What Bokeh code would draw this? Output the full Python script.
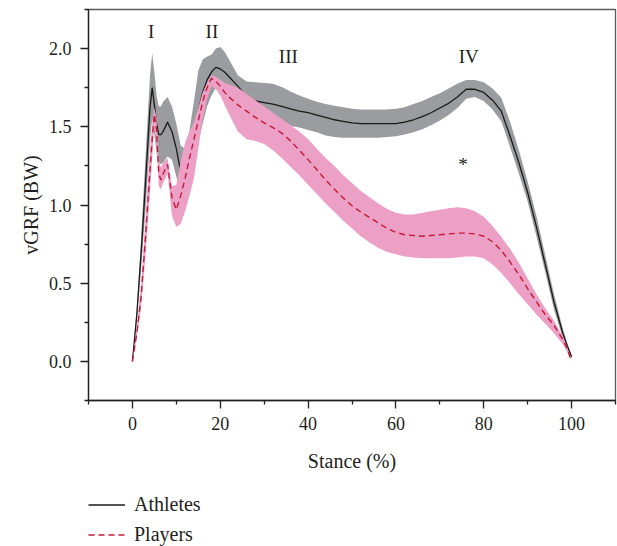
from bokeh.plotting import figure
from bokeh.layouts import column
from bokeh.models import (ColumnDataSource, FixedTicker, PrintfTickFormatter, Legend,
                          LegendItem, Range1d)
from bokeh.core.properties import value
from bokeh.embed import file_html
from bokeh.resources import INLINE

# ---- data ----
stance = [0, 1, 2, 3, 4, 4.5, 5, 5.5, 6, 6.5, 7, 8, 9, 10, 11, 12, 13, 14, 15, 16, 17, 18, 19, 20, 21,
          22, 24, 26, 28, 30, 32, 34, 36, 38, 40, 42, 44, 46, 48, 50, 52, 54, 56, 58, 60, 62, 64, 66,
          68, 70, 72, 74, 76, 78, 80, 82, 84, 86, 88, 90, 92, 94, 96, 98, 99, 100]

athletes_mean = [0.00, 0.30, 0.70, 1.15, 1.62, 1.75, 1.64, 1.52, 1.45, 1.45, 1.47, 1.53, 1.47, 1.36,
                 1.21, 1.17, 1.30, 1.45, 1.60, 1.72, 1.80, 1.85, 1.88, 1.87, 1.85,
                 1.82, 1.76, 1.69, 1.665, 1.655, 1.645, 1.63, 1.615, 1.60, 1.59, 1.575, 1.56, 1.545,
                 1.535, 1.525, 1.52, 1.52, 1.52, 1.52, 1.52, 1.53, 1.545, 1.565,
                 1.59, 1.62, 1.65, 1.69, 1.74, 1.74, 1.72, 1.67, 1.60, 1.44, 1.27, 1.08, 0.86, 0.62,
                 0.38, 0.18, 0.10, 0.03]
athletes_upper = [0.00, 0.34, 0.80, 1.32, 1.83, 1.97, 1.85, 1.70, 1.63, 1.63, 1.66, 1.69, 1.63, 1.52,
                  1.38, 1.36, 1.48, 1.66, 1.86, 1.93, 1.95, 1.96, 2.00, 2.01, 1.98,
                  1.93, 1.83, 1.79, 1.785, 1.78, 1.775, 1.755, 1.725, 1.70, 1.68, 1.66, 1.645, 1.635,
                  1.625, 1.615, 1.61, 1.61, 1.61, 1.61, 1.615, 1.625, 1.645, 1.665,
                  1.69, 1.715, 1.745, 1.775, 1.80, 1.80, 1.785, 1.745, 1.685, 1.53, 1.35, 1.15, 0.93,
                  0.68, 0.43, 0.21, 0.12, 0.04]
athletes_lower = [0.00, 0.26, 0.60, 0.98, 1.41, 1.55, 1.45, 1.33, 1.27, 1.26, 1.27, 1.31, 1.29, 1.18,
                  1.06, 1.05, 1.12, 1.26, 1.40, 1.52, 1.63, 1.70, 1.75, 1.76, 1.74,
                  1.71, 1.66, 1.60, 1.565, 1.55, 1.535, 1.52, 1.505, 1.495, 1.48, 1.465, 1.445, 1.435,
                  1.43, 1.43, 1.43, 1.43, 1.43, 1.435, 1.44, 1.45, 1.465, 1.485,
                  1.51, 1.54, 1.575, 1.62, 1.68, 1.69, 1.665, 1.61, 1.535, 1.37, 1.20, 1.02, 0.80,
                  0.57, 0.33, 0.15, 0.08, 0.02]

players_mean = [0.00, 0.18, 0.42, 0.80, 1.22, 1.42, 1.58, 1.48, 1.20, 1.16, 1.20, 1.26, 1.05, 0.97,
                1.06, 1.17, 1.30, 1.42, 1.54, 1.66, 1.75, 1.81, 1.79, 1.76, 1.72,
                1.69, 1.64, 1.60, 1.56, 1.525, 1.495, 1.46, 1.41, 1.35, 1.29, 1.225, 1.16, 1.10,
                1.045, 0.995, 0.955, 0.92, 0.885, 0.85, 0.825, 0.81, 0.805, 0.80,
                0.805, 0.81, 0.815, 0.82, 0.82, 0.815, 0.80, 0.765, 0.71, 0.635, 0.555, 0.465, 0.38,
                0.30, 0.23, 0.14, 0.08, 0.00]
players_upper = [0.00, 0.22, 0.50, 0.92, 1.35, 1.52, 1.62, 1.56, 1.28, 1.24, 1.27, 1.30, 1.12, 1.13,
                 1.28, 1.40, 1.47, 1.53, 1.62, 1.72, 1.78, 1.83, 1.82, 1.80, 1.78,
                 1.77, 1.75, 1.71, 1.67, 1.63, 1.59, 1.55, 1.51, 1.47, 1.42, 1.36, 1.30, 1.25,
                 1.19, 1.14, 1.09, 1.05, 1.01, 0.975, 0.95, 0.94, 0.94, 0.95,
                 0.96, 0.97, 0.98, 0.985, 0.98, 0.96, 0.925, 0.865, 0.795, 0.72, 0.63, 0.53, 0.43,
                 0.34, 0.26, 0.16, 0.09, 0.00]
players_lower = [0.00, 0.15, 0.35, 0.68, 1.08, 1.30, 1.50, 1.38, 1.12, 1.10, 1.14, 1.20, 0.93, 0.86,
                 0.88, 0.96, 1.06, 1.17, 1.36, 1.55, 1.68, 1.76, 1.74, 1.70, 1.64,
                 1.58, 1.47, 1.42, 1.41, 1.39, 1.35, 1.30, 1.245, 1.19, 1.13, 1.07, 1.01, 0.955,
                 0.90, 0.85, 0.80, 0.76, 0.725, 0.70, 0.685, 0.67, 0.665, 0.66,
                 0.66, 0.66, 0.66, 0.665, 0.67, 0.67, 0.66, 0.62, 0.565, 0.50, 0.43, 0.365, 0.30,
                 0.24, 0.18, 0.11, 0.06, 0.00]

series_names = ["Athletes", "Players"]

phase_labels = ["I", "II", "III", "IV", "*"]
phase_x = [4.25, 18.1, 35.5, 76.6, 75.3]
phase_y = [2.11, 2.11, 1.95, 1.95, 1.26]

x_major = [0, 20, 40, 60, 80, 100]
x_minor = [-10, 10, 30, 50, 70, 90, 110]
y_major = [0.0, 0.5, 1.0, 1.5, 2.0]
y_minor = [-0.25, 0.25, 0.75, 1.25, 1.75, 2.25]

FONT = "Liberation Serif"
TXT = "#231f20"
ATH_LINE = dict(line_color="#1a1a1a", line_width=1.3)
PLY_LINE = dict(line_color="#c8193a", line_width=1.4, line_dash="6 4")

src = ColumnDataSource(dict(x=stance, am=athletes_mean, au=athletes_upper, al=athletes_lower,
                            pm=players_mean, pu=players_upper, pl=players_lower))

p = figure(width=617, height=480, output_backend="svg", toolbar_location=None,
           x_range=Range1d(-10, 110), y_range=Range1d(-0.25, 2.25),
           min_border_left=88, min_border_right=2, min_border_top=9, min_border_bottom=80)
p.grid.visible = False
p.outline_line_color = "#58595b"
p.outline_line_width = 1.3
p.background_fill_color = "white"
p.border_fill_color = "white"

p.varea(x="x", y1="al", y2="au", source=src, fill_color="#9b9ca0", fill_alpha=1.0)
p.line(x="x", y="am", source=src, **ATH_LINE)
p.varea(x="x", y1="pl", y2="pu", source=src, fill_color="#eda0c5", fill_alpha=1.0)
p.line(x="x", y="pm", source=src, **PLY_LINE)

p.text(x=phase_x, y=phase_y, text=phase_labels, text_font=value(FONT),
       text_font_size="19px", text_color=TXT, text_align="center", text_baseline="middle")

for ax in (p.xaxis[0], p.yaxis[0]):
    ax.axis_line_color = TXT
    ax.axis_line_width = 1.3
    ax.major_tick_line_color = TXT
    ax.minor_tick_line_color = TXT
    ax.major_tick_line_width = 1.3
    ax.minor_tick_line_width = 1.3
    ax.major_tick_out = 8
    ax.major_tick_in = 0
    ax.minor_tick_out = 4
    ax.minor_tick_in = 0
    ax.major_label_text_font = FONT
    ax.major_label_text_font_size = "18px"
    ax.major_label_text_color = TXT
    ax.axis_label_text_font = FONT
    ax.axis_label_text_font_size = "20px"
    ax.axis_label_text_font_style = "normal"
    ax.axis_label_text_color = TXT

p.xaxis.ticker = FixedTicker(ticks=x_major, minor_ticks=x_minor)
p.yaxis.ticker = FixedTicker(ticks=y_major, minor_ticks=y_minor)
p.yaxis.formatter = PrintfTickFormatter(format="%.1f")
p.xaxis.axis_label = "Stance (%)"
p.yaxis.axis_label = "vGRF (BW)"
p.xaxis.major_label_standoff = 8
p.xaxis.axis_label_standoff = 17
p.yaxis.major_label_standoff = 9
p.yaxis.axis_label_standoff = 4

# legend strip below the chart (its line renderers sit outside the visible range)
lg = figure(width=617, height=66, output_backend="svg", toolbar_location=None,
            x_range=Range1d(0, 1), y_range=Range1d(0, 1),
            x_axis_location=None, y_axis_location=None,
            min_border_left=88, min_border_right=0, min_border_top=0, min_border_bottom=0)
lg.grid.visible = False
lg.outline_line_color = None
r_ath = lg.line(x=[5, 6], y=[5, 5], **ATH_LINE)
r_ply = lg.line(x=[5, 6], y=[5, 5], **PLY_LINE)
legend = Legend(items=[LegendItem(label=series_names[0], renderers=[r_ath]),
                       LegendItem(label=series_names[1], renderers=[r_ply])],
                location=(0, 0), orientation="vertical",
                padding=0, margin=0, spacing=7, glyph_width=37, glyph_height=23,
                label_height=23, label_standoff=9,
                label_text_font=FONT, label_text_font_size="20px", label_text_color=TXT,
                border_line_color=None, background_fill_alpha=0)
lg.add_layout(legend, "center")

layout = column(p, lg, spacing=0)
open("out.html", "w").write(file_html(layout, INLINE))
